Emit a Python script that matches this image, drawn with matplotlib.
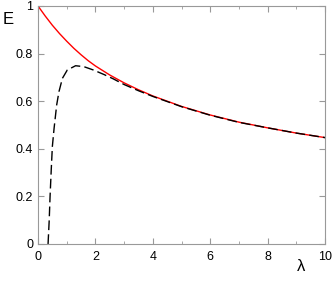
import matplotlib
matplotlib.use('Agg')
import matplotlib.pyplot as plt
from matplotlib.ticker import MultipleLocator, FuncFormatter

plt.rcParams['font.family'] = ['Liberation Sans', 'DejaVu Sans']

# curva exata (vermelha)
lam_exato = [0.0, 0.25, 0.5, 0.75, 1.0, 1.25, 1.5, 1.75, 2.0, 2.5, 3.0, 3.5, 4.0, 5.0, 6.0, 7.0, 8.0, 9.0, 10.0]
E_exato = [1.0, 0.958, 0.919, 0.884, 0.852, 0.822, 0.795, 0.770, 0.748, 0.710, 0.677, 0.648, 0.622, 0.578, 0.542, 0.512, 0.488, 0.466, 0.447]

# aproximacao (tracejada)
lam_aprox = [0.35, 0.39, 0.42, 0.46, 0.5, 0.56, 0.65, 0.73, 0.85, 1.02, 1.31, 1.6, 1.93, 2.3, 2.62, 3.0, 3.5, 4.0, 5.0, 6.0, 7.0, 8.0, 9.0, 10.0]
E_aprox = [0.0, 0.1, 0.2, 0.31, 0.41, 0.486, 0.584, 0.64, 0.696, 0.731, 0.749, 0.745, 0.731, 0.712, 0.694, 0.670, 0.644, 0.620, 0.577, 0.541, 0.511, 0.488, 0.466, 0.447]

fig = plt.figure(figsize=(3.32, 2.85), dpi=100)
ax = fig.add_axes([0.1145, 0.1439, 0.8645, 0.8351])

ax.plot(lam_exato, E_exato, color='red', lw=1.0)
ax.plot(lam_aprox, E_aprox, color='black', lw=1.0, linestyle=(0, (7, 3)))

ax.set_xlim(0, 10)
ax.set_ylim(0, 1)
ax.xaxis.set_major_locator(MultipleLocator(2))
ax.xaxis.set_minor_locator(MultipleLocator(1))
ax.yaxis.set_major_locator(MultipleLocator(0.2))
ax.yaxis.set_major_formatter(FuncFormatter(lambda v, p: f'{v:g}'))

for s in ax.spines.values():
    s.set_color('#999999')
    s.set_linewidth(0.8)
ax.tick_params(which='both', direction='in', top=True, right=True, color='#999999', labelsize=9)
ax.tick_params(which='major', length=4)
ax.tick_params(which='minor', length=2)
ax.tick_params(axis='x', pad=5)

fig.text(0.008, 0.915, 'E', fontsize=12)
fig.text(0.893, 0.05, 'λ', fontsize=12)

plt.savefig('out.png', dpi=100)
